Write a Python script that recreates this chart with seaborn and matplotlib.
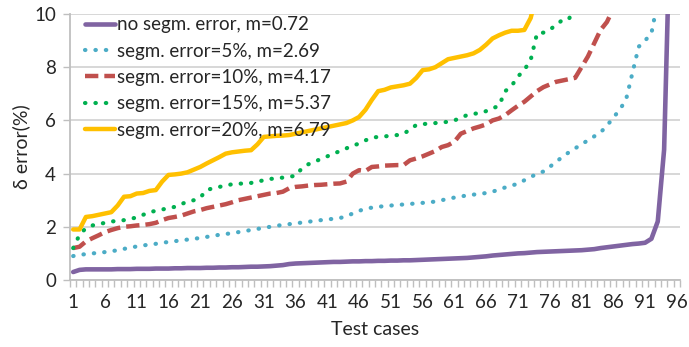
import matplotlib
matplotlib.use("Agg")
import matplotlib.pyplot as plt
import seaborn as sns
import numpy as np
import pandas as pd
from matplotlib.ticker import FixedLocator

cases = list(range(1, 97))
tick_labels = [str(v) for v in range(1, 97, 5)]

no_err = [0.30, 0.38, 0.40, 0.40, 0.40, 0.40, 0.40, 0.41, 0.41, 0.41,
          0.42, 0.42, 0.42, 0.43, 0.43, 0.43, 0.44, 0.44, 0.45, 0.45,
          0.45, 0.46, 0.46, 0.47, 0.47, 0.48, 0.48, 0.49, 0.50, 0.50,
          0.51, 0.52, 0.54, 0.56, 0.60, 0.62, 0.63, 0.64, 0.65, 0.66,
          0.67, 0.68, 0.68, 0.69, 0.70, 0.70, 0.71, 0.71, 0.72, 0.72,
          0.73, 0.73, 0.74, 0.74, 0.75, 0.76, 0.77, 0.78, 0.79, 0.80,
          0.81, 0.82, 0.83, 0.85, 0.87, 0.89, 0.92, 0.94, 0.96, 0.98,
          1.00, 1.01, 1.03, 1.05, 1.06, 1.07, 1.08, 1.09, 1.10, 1.11,
          1.12, 1.14, 1.16, 1.20, 1.23, 1.26, 1.29, 1.32, 1.35, 1.37,
          1.40, 1.55, 2.20, 4.90, 14.0, 20.0]

err5 = [0.90, 0.95, 0.97, 1.00, 1.02, 1.05, 1.08, 1.12, 1.17, 1.22,
        1.26, 1.30, 1.33, 1.36, 1.40, 1.43, 1.46, 1.49, 1.52, 1.55,
        1.58, 1.62, 1.66, 1.70, 1.73, 1.76, 1.80, 1.84, 1.88, 1.92,
        1.96, 2.00, 2.04, 2.07, 2.10, 2.13, 2.16, 2.19, 2.22, 2.25,
        2.28, 2.30, 2.33, 2.40, 2.50, 2.60, 2.68, 2.72, 2.75, 2.78,
        2.80, 2.82, 2.84, 2.86, 2.88, 2.90, 2.92, 2.95, 3.00, 3.05,
        3.10, 3.14, 3.18, 3.21, 3.24, 3.27, 3.32, 3.40, 3.48, 3.55,
        3.62, 3.75, 3.88, 3.98, 4.08, 4.25, 4.45, 4.62, 4.80, 4.95,
        5.10, 5.25, 5.40, 5.55, 5.80, 6.10, 6.40, 6.77, 7.77, 8.77,
        9.00, 9.27, 10.5, 12.0, 14.0, 16.0]

err10 = [1.20, 1.25, 1.45, 1.57, 1.68, 1.80, 1.88, 1.95, 2.00, 2.02,
         2.05, 2.07, 2.10, 2.15, 2.25, 2.33, 2.37, 2.42, 2.50, 2.58,
         2.63, 2.70, 2.75, 2.80, 2.85, 2.92, 3.00, 3.05, 3.10, 3.15,
         3.20, 3.25, 3.27, 3.32, 3.45, 3.50, 3.52, 3.55, 3.57, 3.58,
         3.60, 3.62, 3.63, 3.70, 4.00, 4.13, 4.10, 4.25, 4.27, 4.30,
         4.31, 4.32, 4.32, 4.50, 4.57, 4.65, 4.75, 4.85, 5.00, 5.07,
         5.20, 5.50, 5.60, 5.70, 5.77, 5.85, 6.00, 6.07, 6.20, 6.38,
         6.55, 6.70, 6.90, 7.10, 7.25, 7.35, 7.45, 7.50, 7.55, 7.60,
         8.00, 8.40, 8.90, 9.40, 9.70, 10.2, 11.0, 12.0, 13.0, 14.0,
         15.0, 16.0, 17.0, 18.0, 19.0, 20.0]

err15 = [1.20, 1.70, 1.95, 2.05, 2.10, 2.15, 2.20, 2.22, 2.25, 2.30,
         2.35, 2.45, 2.55, 2.60, 2.65, 2.70, 2.75, 2.85, 2.95, 3.00,
         3.10, 3.38, 3.45, 3.50, 3.55, 3.60, 3.62, 3.63, 3.65, 3.70,
         3.75, 3.80, 3.82, 3.85, 3.88, 3.92, 4.20, 4.35, 4.45, 4.55,
         4.65, 4.75, 4.85, 4.95, 5.05, 5.13, 5.25, 5.35, 5.38, 5.40,
         5.42, 5.45, 5.50, 5.65, 5.83, 5.86, 5.88, 5.90, 5.92, 5.95,
         6.00, 6.10, 6.20, 6.25, 6.27, 6.35, 6.45, 6.55, 7.10, 7.30,
         7.65, 7.90, 8.27, 9.27, 9.30, 9.40, 9.60, 9.77, 9.80, 10.3,
         11.0, 12.0, 13.0, 14.0, 15.0, 16.0, 17.0, 18.0, 19.0, 20.0,
         21.0, 22.0, 23.0, 24.0, 25.0, 26.0]

err20 = [1.90, 1.90, 2.37, 2.40, 2.45, 2.50, 2.55, 2.80, 3.13, 3.15,
         3.25, 3.27, 3.35, 3.38, 3.70, 3.95, 3.97, 4.00, 4.05, 4.15,
         4.25, 4.38, 4.50, 4.62, 4.75, 4.80, 4.83, 4.86, 4.88, 5.10,
         5.38, 5.40, 5.42, 5.43, 5.45, 5.50, 5.55, 5.60, 5.65, 5.70,
         5.75, 5.80, 5.85, 5.90, 6.00, 6.13, 6.40, 6.77, 7.10, 7.15,
         7.24, 7.28, 7.32, 7.38, 7.60, 7.89, 7.92, 8.00, 8.15, 8.30,
         8.35, 8.40, 8.45, 8.52, 8.65, 8.85, 9.08, 9.20, 9.30, 9.37,
         9.37, 9.40, 9.85, 10.8, 11.5, 12.0, 12.5, 13.0, 13.5, 14.0,
         14.5, 15.0, 15.5, 16.0, 16.5, 17.0, 17.5, 18.0, 18.5, 19.0,
         19.5, 20.0, 21.0, 22.0, 23.0, 24.0]

labels = ["no segm. error, m=0.72", "segm. error=5%, m=2.69",
          "segm. error=10%, m=4.17", "segm. error=15%, m=5.37",
          "segm. error=20%, m=6.79"]
series = [no_err, err5, err10, err15, err20]
colors = ["#8064A2", "#4BACC6", "#C0504D", "#00B050", "#FFC000"]
styles = [dict(linestyle="-", linewidth=3.3),
          dict(linestyle=(0, (0.1, 2.4)), linewidth=3.0, dash_capstyle="round"),
          dict(linestyle=(0, (3.0, 1.35)), linewidth=3.2),
          dict(linestyle=(0, (0.1, 2.4)), linewidth=3.0, dash_capstyle="round"),
          dict(linestyle="-", linewidth=3.2)]

sns.set_style("white")
plt.rcParams["font.family"] = ["Lato", "DejaVu Sans"]

fig = plt.figure(figsize=(6.89, 3.47), dpi=100)
ax = fig.add_axes([70 / 689, 1 - 280 / 347, 610 / 689, 266 / 347])

for vals, lab, col, st in zip(series, labels, colors, styles):
    df = pd.DataFrame({"case": cases, "value": vals})
    sns.lineplot(data=df, x="case", y="value", ax=ax, color=col, label=lab,
                 **st)

ax.set_xlim(0.5, 96.5)
ax.set_ylim(0, 10)
ax.set_yticks([0, 2, 4, 6, 8, 10])
ax.set_xticks(list(range(1, 97, 5)))
ax.set_xticklabels(tick_labels)
ax.xaxis.set_minor_locator(FixedLocator(np.arange(0.5, 97, 1.0)))
ax.tick_params(axis="x", which="major", length=0, labelsize=13.5, pad=10,
               labelcolor="#262626")
ax.tick_params(axis="x", which="minor", length=5, width=1, color="#BFBFBF",
               direction="out", bottom=True)
ax.tick_params(axis="y", which="major", length=5, width=1, color="#BFBFBF",
               direction="out", left=True, labelsize=13.5, pad=5,
               labelcolor="#262626")
ax.grid(axis="y", color="#D4D4D4", linewidth=1.3)
ax.grid(axis="x", visible=False)
ax.set_axisbelow(True)
for s in ["top", "right"]:
    ax.spines[s].set_visible(False)
for s in ["left", "bottom"]:
    ax.spines[s].set_color("#BFBFBF")
    ax.spines[s].set_linewidth(1.3)

ax.set_xlabel("Test cases", fontsize=14, color="#262626", labelpad=7)
ax.set_ylabel("δ error(%)", fontsize=14, color="#262626", labelpad=3)

leg = ax.legend(loc="upper left", bbox_to_anchor=(0.012, 1.02), frameon=False,
                fontsize=13.5, handlelength=1.6, handletextpad=0.1,
                labelspacing=0.5, borderaxespad=0.0)
for t in leg.get_texts():
    t.set_color("#262626")

fig.savefig("out.png", dpi=100, facecolor="white")
